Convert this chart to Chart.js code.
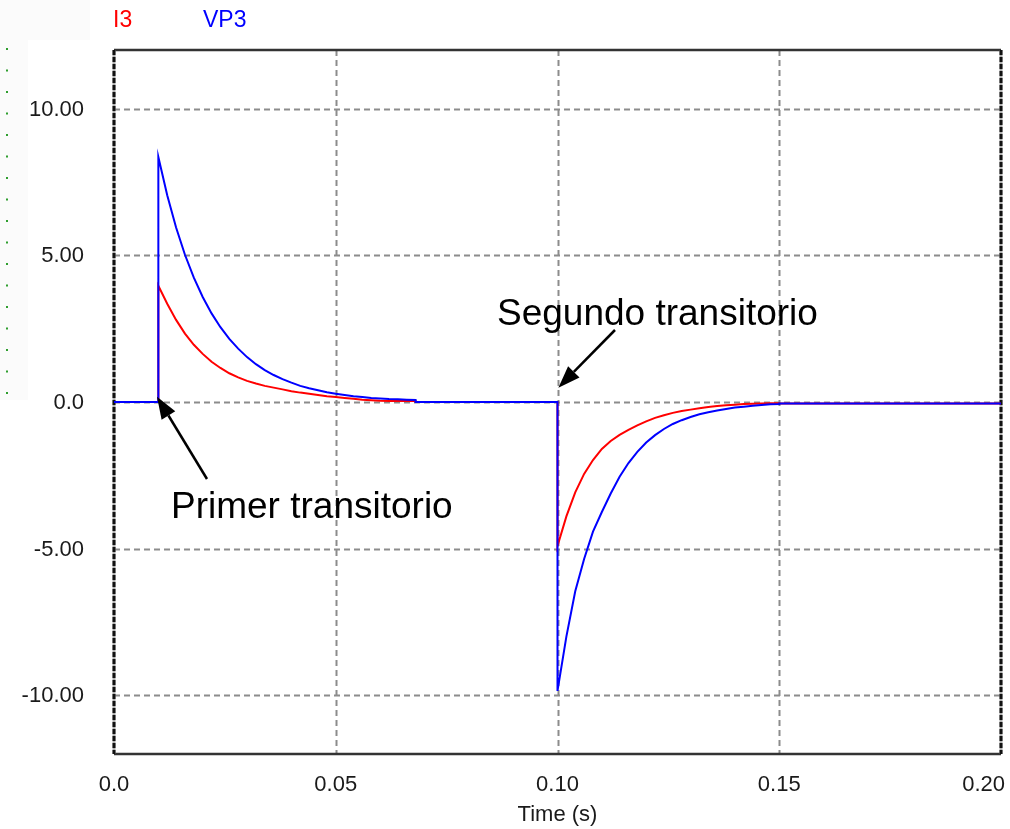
<!DOCTYPE html>
<html>
<head>
<meta charset="utf-8">
<script src="https://cdn.jsdelivr.net/npm/chart.js@4.4.1/dist/chart.umd.min.js"></script>
<style>
  html, body { margin: 0; padding: 0; background: #fff; }
  #wrap { width: 1010px; height: 829px; }
</style>
</head>
<body>
<div id="wrap"><canvas id="grafica" width="1010" height="829"></canvas></div>
<script>
const seriesNames = ['I3', 'VP3'];
const seriesColors = ['#ff0000', '#0000ff'];

// primer transitorio (t = 0.01 s)
const time1 = [0.010, 0.012, 0.014, 0.016, 0.018, 0.020, 0.022, 0.024, 0.026, 0.028,
               0.030, 0.032, 0.034, 0.036, 0.038, 0.040, 0.042, 0.044, 0.046, 0.048,
               0.050, 0.052, 0.054, 0.056, 0.058, 0.060, 0.062, 0.064, 0.066, 0.068];
const i3First = [3.96, 3.35, 2.80, 2.33, 1.95, 1.64, 1.37, 1.16, 0.98, 0.84,
                 0.72, 0.63, 0.55, 0.49, 0.43, 0.37, 0.32, 0.28, 0.24, 0.20,
                 0.17, 0.14, 0.11, 0.08, 0.06, 0.04, 0.03, 0.03, 0.03, 0.03];
const vp3First = [8.35, 7.05, 5.95, 5.02, 4.24, 3.58, 3.02, 2.55, 2.15, 1.82,
                  1.53, 1.29, 1.09, 0.92, 0.78, 0.66, 0.55, 0.47, 0.40, 0.33,
                  0.28, 0.24, 0.20, 0.17, 0.14, 0.12, 0.10, 0.09, 0.08, 0.07];

// segundo transitorio (t = 0.10 s)
const time2 = [0.100, 0.102, 0.104, 0.106, 0.108, 0.110, 0.112, 0.114, 0.116, 0.118,
               0.120, 0.122, 0.124, 0.126, 0.128, 0.130, 0.132, 0.134, 0.136, 0.138,
               0.140, 0.142, 0.144, 0.146, 0.148, 0.150];
const i3Second = [-4.91, -3.90, -3.08, -2.45, -1.98, -1.60, -1.33, -1.12, -0.95, -0.80,
                  -0.66, -0.54, -0.45, -0.37, -0.31, -0.26, -0.21, -0.17, -0.14, -0.11,
                  -0.09, -0.07, -0.06, -0.05, -0.04, -0.04];
const vp3Second = [-9.85, -8.00, -6.45, -5.35, -4.42, -3.75, -3.12, -2.55, -2.08, -1.70,
                   -1.38, -1.13, -0.92, -0.75, -0.62, -0.51, -0.42, -0.35, -0.29, -0.24,
                   -0.19, -0.16, -0.13, -0.10, -0.08, -0.07];
const i3Settled = -0.05;
const vp3Settled = -0.05;
const tEnd = 0.2;

const xTicks = [0, 0.05, 0.10, 0.15, 0.20];
const xTickLabels = ['0.0', '0.05', '0.10', '0.15', '0.20'];
const yTicks = [10, 5, 0, -5, -10];
const yTickLabels = ['10.00', '5.00', '0.0', '-5.00', '-10.00'];

const notes = [
  { text: 'Segundo transitorio', textX: 497, textY: 325, fromX: 615, fromY: 330, tipT: 0.1002, tipV: 0.49 },
  { text: 'Primer transitorio', textX: 171, textY: 518, fromX: 207, fromY: 479, tipT: 0.0097, tipV: 0.18 }
];

const buildSeries = (first, second, settled) => {
    const pts = [{ x: 0, y: 0 }, { x: time1[0], y: 0 }];
    time1.forEach((t, i) => pts.push({ x: t, y: first[i] }));
    pts.push({ x: time1[time1.length - 1], y: 0 });
    pts.push({ x: time2[0], y: 0 });
    time2.forEach((t, i) => pts.push({ x: t, y: second[i] }));
    pts.push({ x: time2[time2.length - 1], y: settled });
    pts.push({ x: tEnd, y: settled });
    return pts;
};

const FONT = '"Liberation Sans", Arial, sans-serif';

const decor = {
    id: 'decor',
    beforeDraw(chart) {
        const ctx = chart.ctx;
        ctx.save();
        ctx.fillStyle = '#ffffff';
        ctx.fillRect(0, 0, chart.width, chart.height);
        ctx.fillStyle = '#fbfbfb';
        ctx.fillRect(0, 0, 28, 400);
        ctx.fillRect(0, 0, 90, 40);
        ctx.fillStyle = '#2e9e2e';
        for (let k = 0; k < 17; k++) {
            ctx.fillRect(6, 48 + k * 21.5, 2, 2);
        }
        ctx.restore();
    },
    beforeDatasetsDraw(chart) {
        const ctx = chart.ctx;
        const { left, right, top, bottom } = chart.chartArea;
        const xs = chart.scales.x, ys = chart.scales.y;
        ctx.save();
        ctx.strokeStyle = '#8c8c8c';
        ctx.lineWidth = 2;
        ctx.setLineDash([6, 4]);
        yTicks.forEach(v => {
            const y = Math.round(ys.getPixelForValue(v)) + 0.5;
            ctx.beginPath(); ctx.moveTo(left, y); ctx.lineTo(right, y); ctx.stroke();
        });
        xTicks.slice(1, -1).forEach(v => {
            const x = Math.round(xs.getPixelForValue(v)) + 0.5;
            ctx.beginPath(); ctx.moveTo(x, top); ctx.lineTo(x, bottom); ctx.stroke();
        });
        // marco
        ctx.setLineDash([]);
        ctx.strokeStyle = '#333333';
        ctx.lineWidth = 2.5;
        ctx.beginPath(); ctx.moveTo(left, top); ctx.lineTo(right, top); ctx.stroke();
        ctx.beginPath(); ctx.moveTo(left, bottom); ctx.lineTo(right, bottom); ctx.stroke();
        [left, right].forEach(x => {
            ctx.strokeStyle = '#b0b0b0';
            ctx.lineWidth = 3;
            ctx.setLineDash([]);
            ctx.beginPath(); ctx.moveTo(x, top); ctx.lineTo(x, bottom); ctx.stroke();
            ctx.strokeStyle = '#111111';
            ctx.setLineDash([5, 2]);
            ctx.beginPath(); ctx.moveTo(x, top); ctx.lineTo(x, bottom); ctx.stroke();
        });
        ctx.restore();
    },
    afterDraw(chart) {
        const ctx = chart.ctx;
        const { left, right, bottom } = chart.chartArea;
        const xs = chart.scales.x, ys = chart.scales.y;
        ctx.save();
        ctx.fillStyle = '#1a1a1a';
        ctx.font = '22px ' + FONT;
        ctx.textBaseline = 'middle';
        ctx.textAlign = 'right';
        yTicks.forEach((v, i) => ctx.fillText(yTickLabels[i], 84, ys.getPixelForValue(v) + 1));
        xTicks.forEach((v, i) => {
            const x = xs.getPixelForValue(v);
            const w = ctx.measureText(xTickLabels[i]).width;
            ctx.textAlign = 'center';
            let cx = x;
            if (cx + w / 2 > right + 4) cx = right + 4 - w / 2;
            ctx.fillText(xTickLabels[i], cx, 785);
        });
        ctx.textAlign = 'center';
        ctx.fillText('Time (s)', (left + right) / 2, 815);

        // leyenda
        ctx.font = '23px ' + FONT;
        ctx.textAlign = 'left';
        const legendX = [113, 203];
        seriesNames.forEach((n, i) => {
            ctx.fillStyle = seriesColors[i];
            ctx.fillText(n, legendX[i], 21);
        });

        // anotaciones
        ctx.fillStyle = '#000';
        ctx.strokeStyle = '#000';
        ctx.font = '37px ' + FONT;
        ctx.textBaseline = 'alphabetic';
        notes.forEach(n => {
            ctx.fillText(n.text, n.textX, n.textY);
            const tx = xs.getPixelForValue(n.tipT), ty = ys.getPixelForValue(n.tipV);
            const ang = Math.atan2(ty - n.fromY, tx - n.fromX);
            const headLen = 22, headW = 8;
            const bx = tx - headLen * Math.cos(ang), by = ty - headLen * Math.sin(ang);
            ctx.lineWidth = 2.5;
            ctx.beginPath(); ctx.moveTo(n.fromX, n.fromY); ctx.lineTo(bx, by); ctx.stroke();
            ctx.beginPath();
            ctx.moveTo(tx, ty);
            ctx.lineTo(bx + headW * Math.sin(ang), by - headW * Math.cos(ang));
            ctx.lineTo(bx - headW * Math.sin(ang), by + headW * Math.cos(ang));
            ctx.closePath();
            ctx.fill();
        });
        ctx.restore();
    }
};

const ctx = document.getElementById('grafica').getContext('2d');

const grafica = new Chart(ctx, {
    type: 'line',
    data: {
        datasets: [
            {
                label: seriesNames[0],
                data: buildSeries(i3First, i3Second, i3Settled),
                borderColor: seriesColors[0],
                borderWidth: 2,
                pointRadius: 0,
                tension: 0,
                fill: false,
                order: 2
            },
            {
                label: seriesNames[1],
                data: buildSeries(vp3First, vp3Second, vp3Settled),
                borderColor: seriesColors[1],
                borderWidth: 2,
                pointRadius: 0,
                tension: 0,
                fill: false,
                order: 1
            }
        ]
    },
    options: {
        responsive: false,
        animation: false,
        devicePixelRatio: 1,
        layout: { padding: { left: 114, right: 9, top: 50, bottom: 75 } },
        plugins: { legend: { display: false }, tooltip: { enabled: false } },
        scales: {
            x: { type: 'linear', display: false, min: 0, max: tEnd },
            y: { type: 'linear', display: false, min: -12, max: 12 }
        }
    },
    plugins: [decor]
});
</script>
</body>
</html>
